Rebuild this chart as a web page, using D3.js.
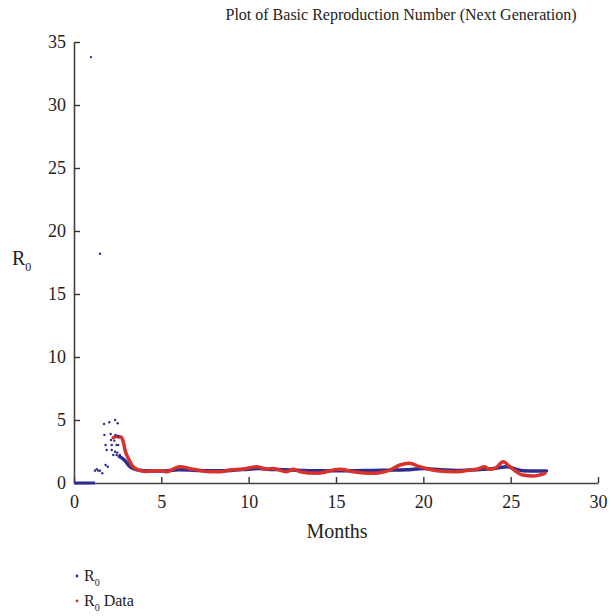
<!DOCTYPE html>
<html>
<head>
<meta charset="utf-8">
<script src="https://cdn.jsdelivr.net/npm/d3@7"></script>
<style>
  body { margin: 0; background: #fff; }
  svg text { font-family: "Liberation Serif", "Times New Roman", serif; fill: #222; }
</style>
</head>
<body>
<svg id="chart" width="611" height="616"></svg>
<script>
// ---- data ----
const xTicks = [0, 5, 10, 15, 20, 25, 30];
const yTicks = [0, 5, 10, 15, 20, 25, 30, 35];

// R0 (model): early scattered points
const r0ScatterMonths = [0.97, 1.49, 1.20, 1.30, 1.39, 1.49, 1.62, 1.81, 1.93, 1.72, 2.02, 2.35, 2.50,
  1.74, 2.10, 2.38, 2.54, 2.12, 2.31, 1.81, 2.16, 2.44, 2.53, 1.87, 2.16, 2.35, 2.48, 2.25, 2.44, 2.63];
const r0ScatterValues = [33.8, 18.2, 0.98, 1.09, 0.98, 0.98, 0.77, 1.43, 1.29, 4.68, 4.82, 5.00, 4.74,
  3.81, 3.89, 3.81, 3.73, 3.41, 3.36, 3.02, 3.02, 3.02, 3.02, 2.62, 2.62, 2.48, 2.41, 2.22, 2.22, 2.22];

// R0 (model): initial zero stretch
const r0ZeroMonths = [0, 1.2];
const r0ZeroValues = [0, 0];

// R0 (model): dense daily series after the spike
const r0Months = [2.6, 2.9, 3.1, 3.3, 3.6, 4.0, 5.0, 6.0, 7.0, 8.0, 9.0, 10.0, 10.5, 11.0, 12.0, 13.0,
  14.0, 15.0, 16.0, 17.0, 18.0, 19.0, 20.0, 21.0, 22.0, 22.7, 24.0, 24.8, 25.3, 25.7, 26.5, 27.05];
const r0Values = [2.1, 1.8, 1.45, 1.2, 1.05, 0.98, 0.95, 1.05, 1.0, 0.97, 1.0, 1.1, 1.15, 1.1, 1.05, 1.0,
  0.97, 0.97, 0.98, 1.0, 1.02, 1.05, 1.15, 1.05, 1.0, 1.03, 1.15, 1.29, 1.1, 0.98, 0.95, 0.95];

// R0 Data
const dataMonths = [2.25, 2.4, 2.55, 2.69, 2.82, 2.92, 3.11, 3.3, 3.59, 4.06, 4.92, 5.3, 6.03, 6.83, 7.78,
  8.35, 8.93, 9.69, 10.46, 11.03, 11.4, 12.17, 12.55, 12.94, 13.9, 15.2, 15.99, 17.1, 17.5, 18.09, 18.66,
  19.2, 19.8, 20.76, 21.9, 22.67, 23.05, 23.53, 23.72, 24.1, 24.57, 24.96, 25.7, 26.3, 26.96];
const dataValues = [3.6, 3.7, 3.65, 3.65, 3.28, 2.62, 1.96, 1.43, 1.09, 0.92, 0.98, 0.9, 1.29, 1.09, 0.9,
  0.9, 1.03, 1.11, 1.29, 1.09, 1.16, 0.9, 1.09, 0.9, 0.77, 1.09, 0.9, 0.77, 0.82, 1.03, 1.43,
  1.56, 1.29, 0.98, 0.9, 1.03, 1.09, 1.29, 1.09, 1.16, 1.69, 1.29, 0.63, 0.56, 0.77];

const seriesNames = ["R", "R"];
const blue = "#2e2c8f";
const red = "#d8322a";
const serif = '"Liberation Serif", "Times New Roman", serif';

// ---- layout ----
const svg = d3.select("#chart");
const m = { left: 74, right: 598, top: 42, bottom: 483 };
const x = d3.scaleLinear().domain([0, 30]).range([m.left, m.right]);
const y = d3.scaleLinear().domain([0, 35]).range([m.bottom, m.top]);

// axes
const xAxis = d3.axisBottom(x).tickValues(xTicks).tickSizeInner(-6).tickSizeOuter(0).tickPadding(12);
const yAxis = d3.axisLeft(y).tickValues(yTicks).tickSizeInner(-6).tickSizeOuter(0).tickPadding(8);

const gx = svg.append("g").attr("transform", `translate(0,${m.bottom})`).call(xAxis);
const gy = svg.append("g").attr("transform", `translate(${m.left},0)`).call(yAxis);
[gx, gy].forEach(g => {
  g.attr("font-family", serif).attr("font-size", 18);
  g.select(".domain").attr("stroke", "#444").attr("stroke-width", 1.6);
  g.selectAll(".tick line").attr("stroke", "#333").attr("stroke-width", 1.4);
  g.selectAll(".tick text").attr("font-family", serif).attr("font-size", 18).attr("fill", "#222");
});
gx.selectAll(".tick text").attr("dy", "0.71em");

// lines
const line = d3.line().x(d => x(d[0])).y(d => y(d[1])).curve(d3.curveMonotoneX);

svg.append("path")
  .datum(r0ZeroMonths.map((v, i) => [v, r0ZeroValues[i]]))
  .attr("d", d3.line().x(d => x(d[0])).y(d => y(d[1])))
  .attr("fill", "none").attr("stroke", blue).attr("stroke-width", 3);

svg.append("path")
  .datum(r0Months.map((v, i) => [v, r0Values[i]]))
  .attr("d", line)
  .attr("fill", "none").attr("stroke", blue).attr("stroke-width", 3.5)
  .attr("stroke-linejoin", "round").attr("stroke-linecap", "round");

svg.append("path")
  .datum(dataMonths.map((v, i) => [v, dataValues[i]]))
  .attr("d", line)
  .attr("fill", "none").attr("stroke", red).attr("stroke-width", 3.5)
  .attr("stroke-linejoin", "round").attr("stroke-linecap", "round");

svg.append("g").selectAll("circle")
  .data(r0ScatterMonths.map((v, i) => [v, r0ScatterValues[i]]))
  .join("circle")
  .attr("cx", d => x(d[0])).attr("cy", d => y(d[1])).attr("r", 1.2)
  .attr("fill", blue);

// title
svg.append("text").attr("x", 401).attr("y", 20).attr("text-anchor", "middle")
  .style("font-size", "16px").text("Plot of Basic Reproduction Number (Next Generation)");

// x label
svg.append("text").attr("x", 337).attr("y", 538).attr("text-anchor", "middle")
  .style("font-size", "20px").text("Months");

// y label R0
const yl = svg.append("text").attr("x", 12).attr("y", 265).style("font-size", "20px");
yl.append("tspan").text("R");
yl.append("tspan").attr("dy", 6).style("font-size", "12px").text("0");

// legend
const legend = svg.append("g");
const legItems = [{ c: blue, sub: "0", rest: "", yy: 576 }, { c: red, sub: "0", rest: " Data", yy: 601 }];
legItems.forEach((it, i) => {
  legend.append("circle").attr("cx", 77).attr("cy", it.yy).attr("r", 1.4).attr("fill", it.c);
  const t = legend.append("text").attr("x", 84).attr("y", it.yy + 5).style("font-size", "16px")
    .attr("xml:space", "preserve").style("white-space", "pre");
  t.append("tspan").text(seriesNames[i]);
  t.append("tspan").attr("dy", 5).style("font-size", "10px").text(it.sub);
  if (it.rest) t.append("tspan").attr("dy", -5).text(it.rest);
});
</script>
</body>
</html>
